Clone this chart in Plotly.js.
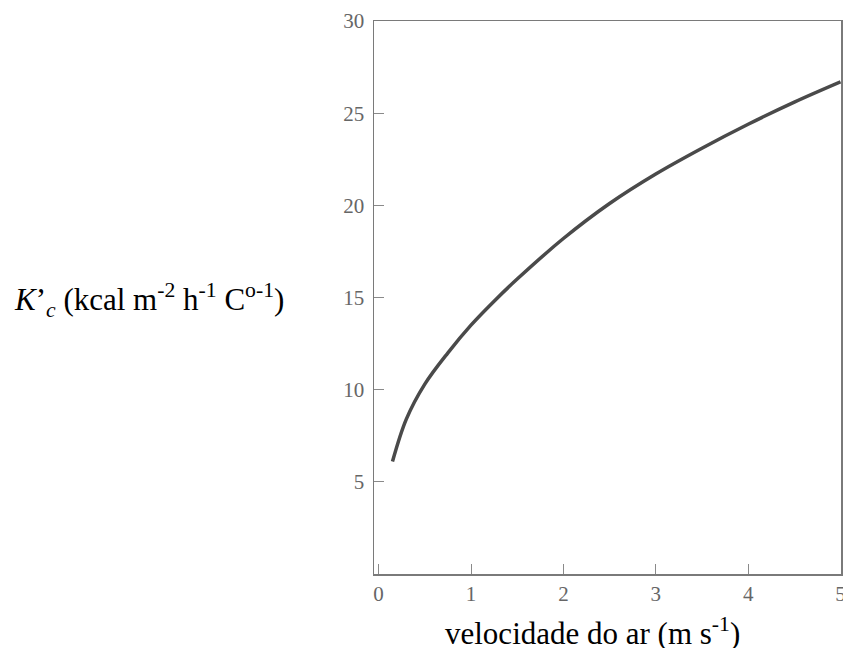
<!DOCTYPE html>
<html>
<head>
<meta charset="utf-8">
<script src="https://cdn.plot.ly/plotly-3.0.1.min.js"></script>
<style>
  html, body { margin: 0; padding: 0; background: #ffffff; }
  #chart { width: 843px; height: 648px; }
</style>
</head>
<body>
<div id="chart"></div>
<script>
// Air velocity (m/s) and convective coefficient K'c (kcal m-2 h-1 C-1)
const airSpeed = [0.15, 0.30, 0.50, 0.75, 1.00, 1.25, 1.50, 2.00,
                  2.50, 3.00, 3.50, 4.00, 4.50, 5.00];
const kcValues = [6.1, 8.4, 10.3, 12.0, 13.5, 14.8, 16.0, 18.2,
                  20.1, 21.7, 23.1, 24.4, 25.6, 26.7];

const xTicks = [0, 1, 2, 3, 4, 5];
const yTicks = [5, 10, 15, 20, 25, 30];

const xTitle = "velocidade do ar (m s<sup>-1</sup>)";
const yTitle = "<i>K</i>’<sub><i>c</i></sub> (kcal m<sup>-2</sup> h<sup>-1</sup> C<sup>o-1</sup>)";

const serif = "Liberation Serif, Times New Roman, serif";

const trace = {
  x: airSpeed,
  y: kcValues,
  type: "scatter",
  mode: "lines",
  line: { color: "#4a4a4a", width: 3.5, shape: "spline", smoothing: 1 },
  hoverinfo: "skip"
};

const axisCommon = {
  showgrid: false,
  zeroline: false,
  showline: true,
  linecolor: "#7a7a7a",
  linewidth: 1.5,
  mirror: true,
  ticks: "inside",
  ticklen: 10,
  tickwidth: 1,
  tickcolor: "#8a8a8a",
  tickfont: { family: serif, size: 21, color: "#666666" },
  ticklabeloverflow: "allow",
  tickmode: "array"
};

const layout = {
  width: 843,
  height: 648,
  margin: { l: 374, r: 2, t: 21, b: 74 },
  paper_bgcolor: "#ffffff",
  plot_bgcolor: "#ffffff",
  showlegend: false,
  font: { family: serif },
  xaxis: Object.assign({}, axisCommon, {
    range: [-0.05, 5.005],
    tickvals: xTicks,
    ticktext: xTicks.map(String),
    ticklabelstandoff: 0
  }),
  yaxis: Object.assign({}, axisCommon, {
    range: [0, 30],
    tickvals: yTicks,
    ticktext: yTicks.map(String),
    ticklabelstandoff: 4
  }),
  annotations: [
    {
      text: xTitle,
      xref: "paper", yref: "paper",
      x: (592 - 374) / 467, y: (574 - 631) / 553,
      xanchor: "center", yanchor: "middle",
      showarrow: false,
      font: { family: serif, size: 31, color: "#000000" }
    },
    {
      text: yTitle,
      xref: "paper", yref: "paper",
      x: (12 - 374) / 467, y: (574 - 300) / 553,
      xanchor: "left", yanchor: "middle",
      showarrow: false,
      font: { family: serif, size: 31, color: "#000000" }
    }
  ]
};

Plotly.newPlot("chart", [trace], layout, { staticPlot: true, displayModeBar: false });
</script>
</body>
</html>
